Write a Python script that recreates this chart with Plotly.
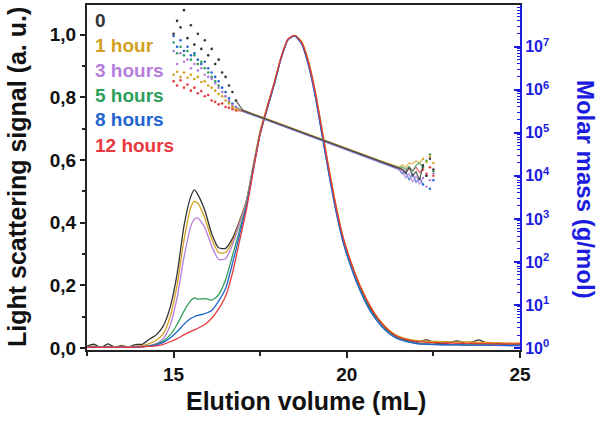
import plotly.graph_objects as go

# ---------------- data ----------------
series_names = ["0", "1 hour", "3 hours", "5 hours", "8 hours", "12 hours"]
series_colors = ["#333333", "#D4A020", "#B57EDC", "#2E9E5B", "#2264D1", "#E8383D"]

elution_ls = [12.5, 12.7, 12.9, 13.1, 13.3, 13.5, 13.7, 13.9, 14.1, 14.3, 14.5, 14.7, 14.9,
              15.1, 15.3, 15.5, 15.6, 15.7, 15.9, 16.1, 16.3, 16.5, 16.7, 16.9, 17.1,
              17.3, 17.5, 17.7, 17.9, 18.1, 18.3, 18.5, 18.7, 18.9, 19.1, 19.3, 19.5,
              19.7, 19.9, 20.1, 20.3, 20.5, 20.7, 20.9, 21.1, 21.3, 21.5,
              21.7, 22.0, 22.3, 22.6, 22.9, 23.2, 23.5, 23.8, 24.1, 24.4, 24.7, 25.0]

ls_0h = [0.006, 0.012, 0.002, 0.013, 0.003, 0.008, 0.003, 0.011, 0.012, 0.028, 0.042, 0.07, 0.13,
         0.235, 0.39, 0.485, 0.505, 0.49, 0.44, 0.365, 0.32, 0.318, 0.35, 0.405, 0.47,
         0.58, 0.69, 0.765, 0.84, 0.925, 0.985, 0.997, 0.972, 0.905, 0.805, 0.68, 0.555,
         0.44, 0.345, 0.275, 0.215, 0.165, 0.122, 0.092, 0.066, 0.045, 0.032,
         0.026, 0.018, 0.026, 0.015, 0.016, 0.023, 0.013, 0.026, 0.013, 0.014, 0.01, 0.012]
ls_1h = [0.004, 0.006, 0.003, 0.005, 0.004, 0.006, 0.004, 0.006, 0.008, 0.014, 0.025, 0.045, 0.1,
         0.2, 0.345, 0.45, 0.468, 0.462, 0.415, 0.348, 0.305, 0.305, 0.34, 0.4, 0.468,
         0.585, 0.695, 0.772, 0.846, 0.928, 0.986, 0.998, 0.978, 0.915, 0.815, 0.69, 0.565,
         0.45, 0.352, 0.282, 0.222, 0.172, 0.13, 0.096, 0.07, 0.05, 0.037,
         0.03, 0.024, 0.022, 0.021, 0.02, 0.019, 0.02, 0.018, 0.018, 0.017, 0.016, 0.016]
ls_3h = [0.003, 0.004, 0.002, 0.004, 0.003, 0.004, 0.003, 0.004, 0.005, 0.008, 0.014, 0.03, 0.072,
         0.16, 0.29, 0.39, 0.412, 0.415, 0.385, 0.325, 0.283, 0.285, 0.33, 0.395, 0.462,
         0.578, 0.688, 0.765, 0.842, 0.924, 0.984, 0.997, 0.97, 0.9, 0.798, 0.672, 0.547,
         0.432, 0.337, 0.267, 0.207, 0.157, 0.115, 0.084, 0.059, 0.04, 0.028,
         0.022, 0.015, 0.012, 0.011, 0.01, 0.01, 0.009, 0.009, 0.009, 0.008, 0.008, 0.008]
ls_5h = [0.002, 0.003, 0.002, 0.003, 0.002, 0.003, 0.002, 0.003, 0.004, 0.007, 0.012, 0.022, 0.042,
         0.075, 0.118, 0.152, 0.16, 0.156, 0.158, 0.153, 0.17, 0.218, 0.295, 0.375, 0.455,
         0.574, 0.686, 0.764, 0.84, 0.924, 0.984, 0.997, 0.972, 0.904, 0.803, 0.678, 0.552,
         0.436, 0.34, 0.27, 0.21, 0.16, 0.118, 0.086, 0.061, 0.042, 0.03,
         0.023, 0.016, 0.013, 0.012, 0.011, 0.011, 0.01, 0.011, 0.01, 0.01, 0.009, 0.009]
ls_8h = [0.002, 0.003, 0.002, 0.003, 0.002, 0.003, 0.002, 0.003, 0.004, 0.006, 0.01, 0.018, 0.032,
         0.052, 0.076, 0.095, 0.1, 0.104, 0.11, 0.12, 0.15, 0.19, 0.27, 0.36, 0.45,
         0.57, 0.683, 0.762, 0.84, 0.923, 0.984, 0.997, 0.97, 0.9, 0.797, 0.67, 0.545,
         0.43, 0.335, 0.265, 0.205, 0.155, 0.114, 0.083, 0.058, 0.04, 0.028,
         0.021, 0.014, 0.012, 0.011, 0.01, 0.01, 0.009, 0.009, 0.009, 0.009, 0.008, 0.008]
ls_12h = [0.002, 0.003, 0.002, 0.003, 0.002, 0.003, 0.002, 0.003, 0.004, 0.005, 0.007, 0.012, 0.02,
          0.03, 0.042, 0.053, 0.058, 0.063, 0.075, 0.095, 0.125, 0.165, 0.24, 0.34, 0.44,
          0.565, 0.685, 0.768, 0.845, 0.927, 0.986, 0.998, 0.975, 0.91, 0.81, 0.686, 0.56,
          0.445, 0.35, 0.28, 0.22, 0.17, 0.128, 0.094, 0.068, 0.048, 0.035,
          0.028, 0.021, 0.018, 0.017, 0.016, 0.015, 0.015, 0.014, 0.014, 0.013, 0.013, 0.013]

# molar mass, stored as log10(g/mol)
elution_mm = [15.0, 15.1, 15.2, 15.3, 15.4, 15.5, 15.6, 15.7, 15.8, 15.9, 16.0, 16.1, 16.2,
              16.3, 16.4, 16.5, 16.6, 16.7, 16.8,
              17.0, 17.5, 18.0, 18.5, 19.0, 19.5, 20.0, 20.5, 21.0, 21.5,
              21.6, 21.7, 21.8, 21.9, 22.0, 22.1, 22.2, 22.3, 22.4, 22.5]

mm_log_0h = [7.3, 7.6, 7.45, 7.85, 7.2, 7.5, 7.05, 7.3, 6.95, 7.15, 6.8, 6.95, 6.6, 6.7, 6.4, 6.3, 6.1, 5.95, 5.75,
             5.52, 5.37, 5.22, 5.07, 4.92, 4.77, 4.62, 4.47, 4.32, 4.18,
             4.15, 4.05, 4.2, 4.0, 4.1, 3.9, 4.25, 4.0, 4.4, 4.15]
mm_log_1h = [6.35, 6.42, 6.3, 6.4, 6.28, 6.35, 6.25, 6.3, 6.18, 6.2, 6.1, 6.05, 5.98, 5.9, 5.85, 5.75, 5.68, 5.6, 5.55,
             5.53, 5.38, 5.23, 5.08, 4.93, 4.78, 4.63, 4.48, 4.34, 4.21,
             4.25, 4.2, 4.3, 4.28, 4.35, 4.3, 4.4, 4.32, 4.45, 4.3]
mm_log_3h = [6.9, 6.6, 6.85, 6.65, 6.7, 6.5, 6.6, 6.45, 6.5, 6.35, 6.3, 6.25, 6.15, 6.05, 5.95, 5.85, 5.75, 5.65, 5.58,
             5.51, 5.36, 5.21, 5.06, 4.91, 4.76, 4.61, 4.46, 4.31, 4.16,
             4.1, 3.95, 4.05, 3.85, 4.0, 3.8, 3.95, 3.75, 3.9, 4.05]
mm_log_5h = [7.1, 6.85, 7.0, 6.8, 6.9, 6.7, 6.8, 6.6, 6.65, 6.5, 6.4, 6.3, 6.2, 6.1, 5.95, 5.85, 5.72, 5.62, 5.56,
             5.52, 5.37, 5.22, 5.07, 4.92, 4.77, 4.62, 4.48, 4.33, 4.19,
             4.2, 4.15, 4.22, 4.1, 4.25, 4.3, 4.2, 4.35, 4.5, 4.1]
mm_log_8h = [7.25, 7.0, 7.15, 6.9, 7.0, 6.8, 6.85, 6.7, 6.6, 6.65, 6.5, 6.4, 6.3, 6.2, 6.05, 5.95, 5.8, 5.68, 5.6,
             5.5, 5.35, 5.2, 5.05, 4.9, 4.75, 4.6, 4.45, 4.3, 4.15,
             4.05, 4.1, 3.9, 4.05, 3.85, 3.95, 3.8, 4.0, 3.7, 3.9]
mm_log_12h = [6.2, 6.1, 6.22, 6.05, 6.12, 5.98, 6.05, 5.92, 5.97, 5.85, 5.88, 5.75, 5.72, 5.66, 5.68, 5.6, 5.58, 5.55, 5.52,
              5.5, 5.36, 5.21, 5.06, 4.91, 4.76, 4.61, 4.46, 4.32, 4.17,
              4.15, 4.1, 4.18, 4.12, 4.2, 4.08, 4.15, 4.05, 4.2, 4.0]

left_tick_vals = [0.0, 0.2, 0.4, 0.6, 0.8, 1.0]
left_tick_text = ["0,0", "0,2", "0,4", "0,6", "0,8", "1,0"]
bottom_tick_vals = [15, 20, 25]
right_exponents = [0, 1, 2, 3, 4, 5, 6, 7]

ls_all = [ls_0h, ls_1h, ls_3h, ls_5h, ls_8h, ls_12h]
mm_all = [mm_log_0h, mm_log_1h, mm_log_3h, mm_log_5h, mm_log_8h, mm_log_12h]

# ---------------- figure ----------------
FONT = "Liberation Sans, Arial, sans-serif"
BLUE = "#1C1CE0"
fig = go.Figure()

for name, col, ls in zip(series_names, series_colors, ls_all):
    fig.add_trace(go.Scatter(x=elution_ls, y=ls, mode="lines", name=name,
                             line=dict(color=col, width=1.3, shape="spline", smoothing=0.6),
                             showlegend=False, hoverinfo="skip"))

for name, col, mm in reversed(list(zip(series_names, series_colors, mm_all))):
    mm_vals = [10 ** v for v in mm]
    fig.add_trace(go.Scatter(x=elution_mm[:19], y=mm_vals[:19], yaxis="y2", mode="markers",
                             marker=dict(color=col, size=2.6), showlegend=False, hoverinfo="skip"))
    fig.add_trace(go.Scatter(x=elution_mm[18:36], y=mm_vals[18:36], yaxis="y2", mode="lines",
                             line=dict(color=col, width=1.3), opacity=0.75,
                             showlegend=False, hoverinfo="skip"))
    fig.add_trace(go.Scatter(x=elution_mm[35:], y=mm_vals[35:], yaxis="y2", mode="markers",
                             marker=dict(color=col, size=2.4), showlegend=False, hoverinfo="skip"))

# legend as coloured text
legend_y_px = [19, 44, 69, 94, 118, 144]
for name, col, ypx in zip(series_names, series_colors, legend_y_px):
    fig.add_annotation(text=name, xref="paper", yref="paper",
                       x=(93 - 87) / 433, y=(350 - ypx) / 347, xanchor="left", yanchor="middle",
                       showarrow=False, font=dict(family=FONT, size=19, color=col, weight="bold"))

# axis titles
fig.add_annotation(text="Light scattering signal (a. u.)", xref="paper", yref="paper",
                   x=(17 - 87) / 433, y=(350 - 176) / 347, textangle=-90, showarrow=False,
                   xanchor="center", yanchor="middle",
                   font=dict(family=FONT, size=25, color="#111111", weight="bold"))
fig.add_annotation(text="Molar mass (g/mol)", xref="paper", yref="paper",
                   x=(585 - 87) / 433, y=(350 - 188) / 347, textangle=90, showarrow=False,
                   xanchor="center", yanchor="middle",
                   font=dict(family=FONT, size=24, color=BLUE, weight="bold"))
fig.add_annotation(text="Elution volume (mL)", xref="paper", yref="paper",
                   x=(306 - 87) / 433, y=(350 - 401) / 347, showarrow=False,
                   xanchor="center", yanchor="middle",
                   font=dict(family=FONT, size=25, color="#111111", weight="bold"))

fig.update_layout(
    width=600, height=425,
    margin=dict(l=87, r=80, t=3, b=75),
    paper_bgcolor="white", plot_bgcolor="white",
    showlegend=False,
    xaxis=dict(range=[12.5, 25], tickvals=bottom_tick_vals, ticks="outside", ticklen=6,
               tickwidth=2, tickcolor="#222222", showline=True, linewidth=2, linecolor="#222222",
               mirror=True, showgrid=False, zeroline=False,
               minor=dict(ticks="outside", ticklen=4, tickwidth=1.5, tickcolor="#222222",
                          dtick=2.5, tick0=12.5, showgrid=False),
               tickfont=dict(family=FONT, size=19, color="#111111", weight="bold")),
    yaxis=dict(range=[-0.0063, 1.0952], tickvals=left_tick_vals, ticktext=left_tick_text,
               ticks="outside", ticklen=5, tickwidth=2, tickcolor="#222222",
               showline=True, linewidth=2, linecolor="#222222", showgrid=False, zeroline=False,
               minor=dict(ticks="outside", ticklen=3, tickwidth=1.5, tickcolor="#222222",
                          dtick=0.1, tick0=0, showgrid=False),
               tickfont=dict(family=FONT, size=19, color="#111111", weight="bold")),
    yaxis2=dict(type="log", range=[-0.046, 7.97], overlaying="y", side="right",
                tickvals=[10 ** e for e in right_exponents],
                ticktext=["10<sup>%d</sup>" % e for e in right_exponents],
                ticks="inside", ticklen=6, tickwidth=2, tickcolor=BLUE,
                showline=True, linewidth=2, linecolor=BLUE, showgrid=False, zeroline=False,
                minor=dict(ticks="inside", ticklen=3, tickwidth=1, tickcolor=BLUE,
                           dtick="D1", showgrid=False),
                tickfont=dict(family=FONT, size=16, color=BLUE, weight="bold")),
)

fig.write_html("out.html", config={"displayModeBar": False},
               post_script="document.body.style.margin='0px';")
